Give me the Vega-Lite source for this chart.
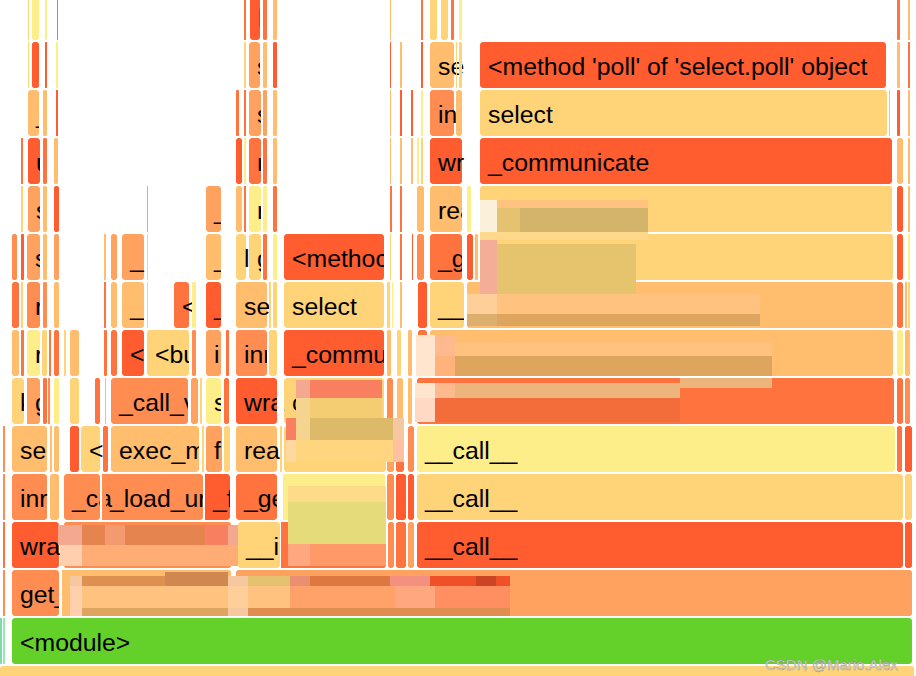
{"$schema":"https://vega.github.io/schema/vega-lite/v6.json","width":916,"height":676,"autosize":{"type":"none"},"padding":0,"background":"white","config":{"view":{"stroke":null}},
"datasets":{"frames":[
{"s":0,"e":914,"l":"-1","h":"U"},
{"s":0.5,"e":1.5,"l":"0","h":"teal"},{"s":3,"e":5,"l":"0","h":"mint"},{"s":12,"e":912,"l":"0","h":"G","n":"<module>"},
{"s":3,"e":5,"l":"1","h":"P"},{"s":12,"e":59,"l":"1","h":"P","n":"get_"},{"s":62,"e":231,"l":"1","h":"T"},{"s":236,"e":912,"l":"1","h":"S"},
{"s":3,"e":5,"l":"2","h":"O"},{"s":12,"e":59,"l":"2","h":"R","n":"wra"},{"s":64,"e":231,"l":"2","h":"P"},{"s":238,"e":280,"l":"2","h":"U","n":"__ir"},{"s":281,"e":386,"l":"2","h":"O"},{"s":388,"e":394,"l":"2","h":"P"},{"s":396,"e":406,"l":"2","h":"O"},{"s":408,"e":414,"l":"2","h":"S"},{"s":417,"e":903,"l":"2","h":"R","n":"__call__"},{"s":905,"e":912,"l":"2","h":"R"},
{"s":3,"e":5,"l":"3","h":"P"},{"s":12,"e":47,"l":"3","h":"P","n":"inr"},{"s":50,"e":59,"l":"3","h":"T"},{"s":64,"e":100,"l":"3","h":"P","n":"_ca"},{"s":102,"e":203,"l":"3","h":"P","n":"_load_ur"},{"s":205,"e":230,"l":"3","h":"R","n":"_f"},{"s":236,"e":277,"l":"3","h":"O","n":"_ge"},{"s":283,"e":385,"l":"3","h":"Y"},{"s":387,"e":394,"l":"3","h":"P"},{"s":396,"e":406,"l":"3","h":"R"},{"s":408,"e":414,"l":"3","h":"R"},{"s":417,"e":903,"l":"3","h":"U","n":"__call__"},{"s":905,"e":912,"l":"3","h":"U"},
{"s":3,"e":5,"l":"4","h":"P"},{"s":12,"e":47,"l":"4","h":"T","n":"ser"},{"s":50,"e":52,"l":"4","h":"T"},{"s":54,"e":59,"l":"4","h":"T"},{"s":70,"e":79,"l":"4","h":"R"},{"s":81,"e":100,"l":"4","h":"U","n":"<"},{"s":103,"e":108,"l":"4","h":"O"},{"s":111,"e":199,"l":"4","h":"T","n":"exec_m"},{"s":202,"e":204,"l":"4","h":"U"},{"s":206,"e":222,"l":"4","h":"S","n":"f"},{"s":224,"e":230,"l":"4","h":"U"},{"s":236,"e":277,"l":"4","h":"T","n":"rea"},{"s":280,"e":282,"l":"4","h":"U"},{"s":284,"e":386,"l":"4","h":"U","n":"execute"},{"s":387,"e":394,"l":"4","h":"S"},{"s":396,"e":404,"l":"4","h":"O"},{"s":408,"e":414,"l":"4","h":"P"},{"s":417,"e":895,"l":"4","h":"Y","n":"__call__"},{"s":897,"e":902,"l":"4","h":"O"},{"s":905,"e":912,"l":"4","h":"R"},
{"s":12,"e":24,"l":"5","h":"U","n":"k"},{"s":27,"e":40,"l":"5","h":"S","n":"g"},{"s":43,"e":47,"l":"5","h":"O"},{"s":48,"e":50,"l":"5","h":"P"},{"s":54,"e":59,"l":"5","h":"Y"},{"s":70,"e":79,"l":"5","h":"U"},{"s":95,"e":100,"l":"5","h":"O"},{"s":105,"e":106,"l":"5","h":"T"},{"s":111,"e":188,"l":"5","h":"P","n":"_call_v"},{"s":191,"e":198,"l":"5","h":"S"},{"s":200,"e":202,"l":"5","h":"U"},{"s":206,"e":221,"l":"5","h":"Y","n":"s"},{"s":224,"e":229,"l":"5","h":"O"},{"s":236,"e":277,"l":"5","h":"R","n":"wra"},{"s":284,"e":384,"l":"5","h":"U","n":"c"},{"s":387,"e":393,"l":"5","h":"P"},{"s":397,"e":403,"l":"5","h":"T"},{"s":408,"e":412,"l":"5","h":"T"},{"s":417,"e":894,"l":"5","h":"O"},{"s":897,"e":903,"l":"5","h":"O"},{"s":905,"e":910,"l":"5","h":"P"},
{"s":12,"e":19,"l":"6","h":"T"},{"s":21,"e":24,"l":"6","h":"O"},{"s":27,"e":40,"l":"6","h":"Y","n":"r"},{"s":42,"e":47,"l":"6","h":"U"},{"s":49,"e":51,"l":"6","h":"O"},{"s":54,"e":59,"l":"6","h":"O"},{"s":64,"e":66,"l":"6","h":"U"},{"s":70,"e":79,"l":"6","h":"T"},{"s":104,"e":107,"l":"6","h":"O"},{"s":111,"e":117,"l":"6","h":"O"},{"s":122,"e":144,"l":"6","h":"R","n":"<"},{"s":147,"e":189,"l":"6","h":"U","n":"<bu"},{"s":192,"e":196,"l":"6","h":"P"},{"s":206,"e":221,"l":"6","h":"S","n":"i"},{"s":226,"e":229,"l":"6","h":"O"},{"s":236,"e":267,"l":"6","h":"P","n":"inr"},{"s":269,"e":277,"l":"6","h":"U"},{"s":284,"e":384,"l":"6","h":"R","n":"_commu"},{"s":387,"e":391,"l":"6","h":"T"},{"s":397,"e":401,"l":"6","h":"U"},{"s":408,"e":412,"l":"6","h":"T"},{"s":418,"e":427,"l":"6","h":"O"},{"s":430,"e":893,"l":"6","h":"T"},{"s":897,"e":903,"l":"6","h":"Y"},{"s":905,"e":910,"l":"6","h":"T"},
{"s":12,"e":19,"l":"7","h":"O"},{"s":21,"e":23,"l":"7","h":"U"},{"s":27,"e":40,"l":"7","h":"P","n":"r"},{"s":43,"e":47,"l":"7","h":"P"},{"s":54,"e":59,"l":"7","h":"T"},{"s":104,"e":106,"l":"7","h":"O"},{"s":111,"e":117,"l":"7","h":"T"},{"s":122,"e":144,"l":"7","h":"T","n":"_"},{"s":147,"e":148,"l":"7","h":"U"},{"s":174,"e":189,"l":"7","h":"O","n":"<"},{"s":192,"e":196,"l":"7","h":"Y"},{"s":206,"e":221,"l":"7","h":"R","n":"_"},{"s":236,"e":267,"l":"7","h":"T","n":"se"},{"s":269,"e":271,"l":"7","h":"U"},{"s":273,"e":277,"l":"7","h":"U"},{"s":284,"e":384,"l":"7","h":"U","n":"select"},{"s":387,"e":390,"l":"7","h":"U"},{"s":392,"e":393,"l":"7","h":"Y"},{"s":400,"e":402,"l":"7","h":"T"},{"s":418,"e":427,"l":"7","h":"R"},{"s":430,"e":464,"l":"7","h":"U","n":"__i"},{"s":467,"e":893,"l":"7","h":"T"},{"s":897,"e":903,"l":"7","h":"O"},{"s":905,"e":907,"l":"7","h":"T"},{"s":908,"e":910,"l":"7","h":"U"},
{"s":12,"e":17,"l":"8","h":"P"},{"s":21,"e":24,"l":"8","h":"R"},{"s":27,"e":40,"l":"8","h":"S","n":"s"},{"s":43,"e":47,"l":"8","h":"T"},{"s":54,"e":59,"l":"8","h":"S"},{"s":104,"e":106,"l":"8","h":"T"},{"s":111,"e":117,"l":"8","h":"S"},{"s":122,"e":144,"l":"8","h":"S","n":"_"},{"s":147,"e":148,"l":"8","h":"U"},{"s":206,"e":221,"l":"8","h":"T","n":"_"},{"s":236,"e":246,"l":"8","h":"U","n":"l"},{"s":249,"e":261,"l":"8","h":"U","n":"g"},{"s":263,"e":267,"l":"8","h":"O"},{"s":273,"e":277,"l":"8","h":"Y"},{"s":284,"e":384,"l":"8","h":"R","n":"<methoc"},{"s":390,"e":391,"l":"8","h":"U"},{"s":400,"e":402,"l":"8","h":"O"},{"s":412,"e":413,"l":"8","h":"R"},{"s":417,"e":424,"l":"8","h":"P"},{"s":430,"e":462,"l":"8","h":"O","n":"_g"},{"s":467,"e":473,"l":"8","h":"R"},{"s":475,"e":478,"l":"8","h":"T"},{"s":480,"e":893,"l":"8","h":"U"},{"s":897,"e":903,"l":"8","h":"R"},{"s":908,"e":910,"l":"8","h":"Y"},
{"s":21,"e":23,"l":"9","h":"U"},{"s":28,"e":40,"l":"9","h":"S","n":"s"},{"s":43,"e":47,"l":"9","h":"T"},{"s":54,"e":59,"l":"9","h":"R"},{"s":147,"e":148,"l":"9","h":"S"},{"s":206,"e":221,"l":"9","h":"S","n":"_"},{"s":236,"e":242,"l":"9","h":"T"},{"s":244,"e":246,"l":"9","h":"O"},{"s":249,"e":261,"l":"9","h":"Y","n":"r"},{"s":263,"e":267,"l":"9","h":"Y"},{"s":273,"e":277,"l":"9","h":"O"},{"s":390,"e":392,"l":"9","h":"O"},{"s":400,"e":402,"l":"9","h":"O"},{"s":417,"e":424,"l":"9","h":"T"},{"s":430,"e":462,"l":"9","h":"T","n":"rea"},{"s":467,"e":471,"l":"9","h":"Y"},{"s":480,"e":892,"l":"9","h":"U"},{"s":897,"e":903,"l":"9","h":"R"},{"s":908,"e":910,"l":"9","h":"T"},
{"s":21,"e":23,"l":"10","h":"O"},{"s":28,"e":40,"l":"10","h":"R","n":"u"},{"s":43,"e":47,"l":"10","h":"O"},{"s":54,"e":58,"l":"10","h":"T"},{"s":236,"e":242,"l":"10","h":"R"},{"s":244,"e":246,"l":"10","h":"Y"},{"s":249,"e":261,"l":"10","h":"O","n":"r"},{"s":263,"e":267,"l":"10","h":"O"},{"s":273,"e":277,"l":"10","h":"T"},{"s":390,"e":391,"l":"10","h":"T"},{"s":400,"e":402,"l":"10","h":"T"},{"s":411,"e":413,"l":"10","h":"T"},{"s":417,"e":419,"l":"10","h":"Y"},{"s":421,"e":423,"l":"10","h":"U"},{"s":430,"e":462,"l":"10","h":"R","n":"wr"},{"s":480,"e":892,"l":"10","h":"R","n":"_communicate"},{"s":897,"e":903,"l":"10","h":"T"},{"s":908,"e":910,"l":"10","h":"T"},
{"s":28,"e":39,"l":"11","h":"T","n":"_"},{"s":43,"e":47,"l":"11","h":"T"},{"s":56,"e":58,"l":"11","h":"R"},{"s":236,"e":239,"l":"11","h":"O"},{"s":244,"e":246,"l":"11","h":"O"},{"s":249,"e":261,"l":"11","h":"S","n":"s"},{"s":263,"e":267,"l":"11","h":"S"},{"s":273,"e":277,"l":"11","h":"T"},{"s":390,"e":391,"l":"11","h":"T"},{"s":400,"e":402,"l":"11","h":"R"},{"s":411,"e":413,"l":"11","h":"R"},{"s":421,"e":423,"l":"11","h":"Y"},{"s":430,"e":454,"l":"11","h":"P","n":"in"},{"s":456,"e":462,"l":"11","h":"T"},{"s":480,"e":887,"l":"11","h":"U","n":"select"},{"s":889,"e":890,"l":"11","h":"T"},{"s":897,"e":900,"l":"11","h":"R"},{"s":908,"e":910,"l":"11","h":"T"},
{"s":28,"e":29,"l":"12","h":"U"},{"s":32,"e":39,"l":"12","h":"R"},{"s":45,"e":47,"l":"12","h":"R"},{"s":56,"e":58,"l":"12","h":"Y"},{"s":244,"e":246,"l":"12","h":"U"},{"s":249,"e":260,"l":"12","h":"S","n":"s"},{"s":263,"e":267,"l":"12","h":"T"},{"s":273,"e":277,"l":"12","h":"R"},{"s":390,"e":391,"l":"12","h":"R"},{"s":400,"e":402,"l":"12","h":"T"},{"s":421,"e":423,"l":"12","h":"R"},{"s":430,"e":454,"l":"12","h":"T","n":"se"},{"s":456,"e":457,"l":"12","h":"U"},{"s":459,"e":462,"l":"12","h":"U"},{"s":480,"e":886,"l":"12","h":"R","n":"<method 'poll' of 'select.poll' object"},{"s":897,"e":900,"l":"12","h":"T"},{"s":908,"e":910,"l":"12","h":"O"},
{"s":28,"e":29,"l":"13","h":"U"},{"s":32,"e":39,"l":"13","h":"Y"},{"s":45,"e":47,"l":"13","h":"Y"},{"s":57,"e":58,"l":"13","h":"O"},{"s":244,"e":246,"l":"13","h":"O"},{"s":250,"e":260,"l":"13","h":"R","n":"l"},{"s":263,"e":267,"l":"13","h":"O"},{"s":273,"e":277,"l":"13","h":"T"},{"s":390,"e":391,"l":"13","h":"T"},{"s":421,"e":423,"l":"13","h":"O"},{"s":430,"e":437,"l":"13","h":"U"},{"s":441,"e":448,"l":"13","h":"U"},{"s":451,"e":454,"l":"13","h":"O"},{"s":459,"e":462,"l":"13","h":"Y"},{"s":897,"e":900,"l":"13","h":"O"},{"s":908,"e":910,"l":"13","h":"T"}
],
"trim":[
{"s":24,"e":27,"l":"5","h":"W"},{"s":27,"e":33,"l":"5","h":"S"},{"s":40,"e":43,"l":"5","h":"W"},{"s":47,"e":48,"l":"5","h":"W"},{"s":188,"e":191,"l":"5","h":"W"},{"s":221,"e":224,"l":"5","h":"W"},{"s":277,"e":284,"l":"5","h":"W"},
{"s":40,"e":42,"l":"6","h":"W"},{"s":189,"e":192,"l":"6","h":"W"},{"s":221,"e":226,"l":"6","h":"W"},{"s":267,"e":269,"l":"6","h":"W"},{"s":384,"e":387,"l":"6","h":"W"},
{"s":40,"e":43,"l":"7","h":"W"},{"s":144,"e":147,"l":"7","h":"W"},{"s":221,"e":236,"l":"7","h":"W"},{"s":464,"e":467,"l":"7","h":"W"},
{"s":40,"e":43,"l":"8","h":"W"},{"s":47,"e":54,"l":"8","h":"W"},{"s":221,"e":236,"l":"8","h":"W"},{"s":261,"e":263,"l":"8","h":"W"},{"s":267,"e":273,"l":"8","h":"W"},{"s":384,"e":390,"l":"8","h":"W"},{"s":462,"e":467,"l":"8","h":"W"},
{"s":40,"e":43,"l":"9","h":"W"},{"s":47,"e":54,"l":"9","h":"W"},{"s":221,"e":236,"l":"9","h":"W"},{"s":261,"e":263,"l":"9","h":"W"},{"s":462,"e":467,"l":"9","h":"W"},{"s":471,"e":480,"l":"9","h":"W"},
{"s":40,"e":43,"l":"10","h":"W"},{"s":47,"e":54,"l":"10","h":"W"},{"s":261,"e":263,"l":"10","h":"W"},
{"s":39,"e":43,"l":"11","h":"W"},{"s":47,"e":56,"l":"11","h":"W"},{"s":261,"e":263,"l":"11","h":"W"},{"s":267,"e":273,"l":"11","h":"W"},
{"s":260,"e":263,"l":"12","h":"W"},{"s":267,"e":273,"l":"12","h":"W"},{"s":260,"e":263,"l":"13","h":"W"},
{"s":47,"e":50,"l":"4","h":"W"},{"s":52,"e":54,"l":"4","h":"W"},{"s":199,"e":202,"l":"4","h":"W"},{"s":204,"e":206,"l":"4","h":"W"},{"s":222,"e":224,"l":"4","h":"W"},
{"s":100,"e":102,"l":"3","h":"W"},{"s":102,"e":106,"l":"3","h":"P"},{"s":203,"e":205,"l":"3","h":"W"},{"s":205,"e":208,"l":"3","h":"R"},{"s":230,"e":236,"l":"3","h":"W"},{"s":277,"e":283,"l":"3","h":"W"},{"s":283,"e":288,"l":"3","h":"Y"},
{"s":280,"e":281,"l":"2","h":"W"},{"s":281,"e":290,"l":"2","h":"O"},{"s":59,"e":62,"l":"1","h":"W"},{"s":62,"e":70,"l":"1","h":"T"}
],
"blur":[
{"a":480,"b":497,"p":9.667,"q":9.5,"h":"m1"},{"a":497,"b":648,"p":9.667,"q":9.5,"h":"m2"},
{"a":480,"b":497,"p":9.5,"q":9.0,"h":"m1"},{"a":497,"b":520,"p":9.5,"q":9.0,"h":"m4"},{"a":520,"b":648,"p":9.5,"q":9.0,"h":"m3"},
{"a":480,"b":497,"p":9.0,"q":8.833,"h":"m5"},{"a":497,"b":648,"p":9.0,"q":8.833,"h":"m5"},
{"a":480,"b":497,"p":8.833,"q":7.708,"h":"m6"},{"a":497,"b":636,"p":8.75,"q":7.708,"h":"m7"},
{"a":467,"b":497,"p":7.708,"q":7.292,"h":"m8"},{"a":497,"b":760,"p":7.708,"q":7.292,"h":"m2"},
{"a":467,"b":497,"p":7.292,"q":7.042,"h":"m9"},{"a":497,"b":760,"p":7.292,"q":7.042,"h":"m10"},
{"a":416,"b":435,"p":6.854,"q":6.417,"h":"m11"},{"a":435,"b":455,"p":6.854,"q":6.417,"h":"m12"},{"a":455,"b":772,"p":6.7,"q":6.417,"h":"m2"},
{"a":416,"b":435,"p":6.417,"q":6.0,"h":"m11"},{"a":435,"b":455,"p":6.417,"q":6.0,"h":"m13"},{"a":455,"b":772,"p":6.417,"q":6.0,"h":"m10"},
{"a":415,"b":435,"p":5.854,"q":5.542,"h":"m11"},{"a":435,"b":455,"p":5.854,"q":5.542,"h":"m12"},{"a":455,"b":680,"p":5.854,"q":5.542,"h":"m14"},{"a":680,"b":772,"p":5.958,"q":5.75,"h":"m14"},
{"a":415,"b":435,"p":5.542,"q":5.042,"h":"m15"},{"a":435,"b":680,"p":5.542,"q":5.042,"h":"m16"},
{"a":296,"b":310,"p":5.917,"q":5.542,"h":"m17"},{"a":310,"b":382,"p":5.917,"q":5.542,"h":"m18"},
{"a":296,"b":310,"p":5.542,"q":5.125,"h":"m19"},{"a":310,"b":382,"p":5.542,"q":5.125,"h":"m20"},
{"a":286,"b":296,"p":5.125,"q":4.667,"h":"m18"},{"a":296,"b":310,"p":5.125,"q":4.667,"h":"m19"},{"a":310,"b":393,"p":5.125,"q":4.667,"h":"m21"},{"a":393,"b":404,"p":5.125,"q":4.667,"h":"m22"},
{"a":286,"b":296,"p":4.667,"q":4.208,"h":"m23"},{"a":296,"b":393,"p":4.667,"q":4.208,"h":"m24"},{"a":393,"b":404,"p":4.667,"q":4.208,"h":"m25"},
{"a":288,"b":386,"p":3.708,"q":3.375,"h":"m26"},{"a":288,"b":386,"p":3.375,"q":2.5,"h":"m27"},
{"a":288,"b":310,"p":2.5,"q":2.042,"h":"m28"},{"a":310,"b":386,"p":2.5,"q":2.042,"h":"m29"},
{"a":58,"b":82,"p":2.896,"q":2.479,"h":"m17"},{"a":82,"b":105,"p":2.896,"q":2.479,"h":"m30"},{"a":105,"b":125,"p":2.896,"q":2.479,"h":"m31"},{"a":125,"b":205,"p":2.896,"q":2.479,"h":"m30"},{"a":205,"b":228,"p":2.896,"q":2.479,"h":"m18"},{"a":228,"b":238,"p":2.896,"q":2.479,"h":"m17"},
{"a":60,"b":82,"p":2.479,"q":2.042,"h":"m32"},{"a":82,"b":238,"p":2.479,"q":2.042,"h":"m33"},
{"a":70,"b":82,"p":1.833,"q":1.625,"h":"m22"},{"a":82,"b":165,"p":1.833,"q":1.625,"h":"m34"},{"a":165,"b":228,"p":1.917,"q":1.625,"h":"m35"},{"a":228,"b":248,"p":1.833,"q":1.625,"h":"m22"},{"a":248,"b":290,"p":1.833,"q":1.625,"h":"m4"},{"a":290,"b":310,"p":1.833,"q":1.625,"h":"m36"},{"a":310,"b":390,"p":1.833,"q":1.625,"h":"m37"},{"a":390,"b":430,"p":1.833,"q":1.625,"h":"m38"},{"a":430,"b":476,"p":1.833,"q":1.625,"h":"m39"},{"a":476,"b":496,"p":1.833,"q":1.625,"h":"m40"},{"a":496,"b":510,"p":1.833,"q":1.625,"h":"m39"},
{"a":70,"b":82,"p":1.625,"q":1.167,"h":"m32"},{"a":82,"b":228,"p":1.625,"q":1.167,"h":"m2"},{"a":228,"b":248,"p":1.625,"q":1.167,"h":"m8"},{"a":248,"b":290,"p":1.625,"q":1.167,"h":"m2"},{"a":290,"b":395,"p":1.625,"q":1.167,"h":"m41"},{"a":395,"b":435,"p":1.625,"q":1.167,"h":"m28"},{"a":435,"b":510,"p":1.625,"q":1.167,"h":"m42"},
{"a":70,"b":82,"p":1.167,"q":1.0,"h":"m32"},{"a":82,"b":228,"p":1.167,"q":1.0,"h":"m10"},{"a":228,"b":248,"p":1.167,"q":1.0,"h":"m22"},{"a":248,"b":510,"p":1.167,"q":1.0,"h":"m43"}
]},
"resolve":{"scale":{"y":"independent"}},
"layer":[
{"data":{"name":"frames"},"mark":{"type":"rect","cornerRadius":3,"clip":true},
"encoding":{"x":{"field":"s","type":"quantitative","scale":{"domain":[0,916],"range":[0,916],"nice":false,"zero":false},"axis":null},"x2":{"field":"e"},
"y":{"field":"l","type":"nominal","scale":{"domain":["13","12","11","10","9","8","7","6","5","4","3","2","1","0","-1"],"range":[-7,713],"paddingInner":0.0417,"paddingOuter":0.0208},"axis":null},
"color":{"field":"h","type":"nominal","legend":null,"scale":{"domain":["R","O","P","S","T","U","Y","G","teal","mint","W"],"range":["#FF5C30","#FF733E","#FF8C50","#FFA25F","#FFBD6D","#FFD479","#FDEE8A","#64D02A","#50D090","#9AE8B0","#FFFFFF"]}}}},
{"data":{"name":"frames"},"transform":[{"filter":"isValid(datum.n)"}],"mark":{"type":"text","align":"left","baseline":"middle","dx":8,"dy":3,"font":"Liberation Sans","fontSize":24.8,"color":"#000000","clip":true},
"encoding":{"x":{"field":"s","type":"quantitative","scale":{"domain":[0,916],"range":[0,916],"nice":false,"zero":false},"axis":null},
"y":{"field":"l","type":"nominal","scale":{"domain":["13","12","11","10","9","8","7","6","5","4","3","2","1","0","-1"],"range":[-7,713],"paddingInner":0.0417,"paddingOuter":0.0208},"axis":null},
"text":{"field":"n"}}},
{"data":{"name":"trim"},"mark":{"type":"rect","clip":true},
"encoding":{"x":{"field":"s","type":"quantitative","scale":{"domain":[0,916],"range":[0,916],"nice":false,"zero":false},"axis":null},"x2":{"field":"e"},
"y":{"field":"l","type":"nominal","scale":{"domain":["13","12","11","10","9","8","7","6","5","4","3","2","1","0","-1"],"range":[-7,713],"paddingInner":0.0417,"paddingOuter":0.0208},"axis":null},
"color":{"field":"h","type":"nominal","legend":null,"scale":{"domain":["R","O","P","S","T","U","Y","G","teal","mint","W"],"range":["#FF5C30","#FF733E","#FF8C50","#FFA25F","#FFBD6D","#FFD479","#FDEE8A","#64D02A","#50D090","#9AE8B0","#FFFFFF"]}}}},
{"data":{"name":"frames"},"transform":[{"filter":"!isValid(datum.n)"}],"mark":{"type":"rect","cornerRadius":3,"clip":true},
"encoding":{"x":{"field":"s","type":"quantitative","scale":{"domain":[0,916],"range":[0,916],"nice":false,"zero":false},"axis":null},"x2":{"field":"e"},
"y":{"field":"l","type":"nominal","scale":{"domain":["13","12","11","10","9","8","7","6","5","4","3","2","1","0","-1"],"range":[-7,713],"paddingInner":0.0417,"paddingOuter":0.0208},"axis":null},
"color":{"field":"h","type":"nominal","legend":null,"scale":{"domain":["R","O","P","S","T","U","Y","G","teal","mint","W"],"range":["#FF5C30","#FF733E","#FF8C50","#FFA25F","#FFBD6D","#FFD479","#FDEE8A","#64D02A","#50D090","#9AE8B0","#FFFFFF"]}}}},
{"data":{"name":"blur"},"mark":{"type":"rect","clip":true},
"encoding":{"x":{"field":"a","type":"quantitative","scale":{"domain":[0,916],"range":[0,916],"nice":false,"zero":false},"axis":null},"x2":{"field":"b"},
"y":{"field":"p","type":"quantitative","scale":{"domain":[-0.25,13.8333],"range":[676,0],"nice":false,"zero":false},"axis":null},"y2":{"field":"q"},
"fill":{"field":"h","type":"nominal","legend":null,"scale":{"domain":["m1","m2","m3","m4","m5","m6","m7","m8","m9","m10","m11","m12","m13","m14","m15","m16","m17","m18","m19","m20","m21","m22","m23","m24","m25","m26","m27","m28","m29","m30","m31","m32","m33","m34","m35","m36","m37","m38","m39","m40","m41","m42","m43"],
"range":["#FBF0DA","#FFC37F","#D4B46A","#E4C26F","#FFD88C","#F4AE98","#E6C46E","#FFCF9A","#DDAF6E","#DDA55D","#FFE4CE","#FFB98F","#FFB27A","#EDB47C","#FFD9C3","#F26D3A","#F5A890","#F87F60","#F5D490","#F4CC72","#DDB96A","#F5C8A0","#FFD8A0","#FFD67F","#FFC0A0","#FCDC88","#E5DB7A","#FFA880","#FF9968","#E68450","#F49A70","#FFCFAE","#FFAD75","#DD9050","#D08850","#E89070","#DC7840","#F49080","#F05028","#CC4424","#FFA26A","#FF8E60","#E08E50"]}}}},
{"data":{"values":[{"px":765,"py":-0.03,"w":"CSDN @Mario.Alex"}]},"mark":{"type":"text","align":"left","baseline":"middle","font":"Liberation Sans","fontSize":15,"color":"#DADAD4","stroke":"#8E8E8E","strokeWidth":0.35,"clip":false},
"encoding":{"x":{"field":"px","type":"quantitative","scale":{"domain":[0,916],"range":[0,916],"nice":false,"zero":false},"axis":null},
"y":{"field":"py","type":"quantitative","scale":{"domain":[-0.25,13.8333],"range":[676,0],"nice":false,"zero":false},"axis":null},
"text":{"field":"w"}}}
]}
